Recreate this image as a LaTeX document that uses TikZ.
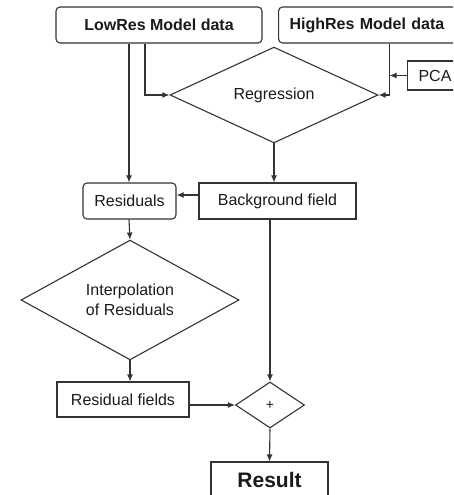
\documentclass[tikz,border=0pt]{standalone}
\usepackage{fontspec}
\setmainfont{Liberation Sans}
\usetikzlibrary{shapes.geometric,arrows.meta}
\definecolor{lncol}{HTML}{333333}
\definecolor{txcol}{HTML}{1A1A1A}
\tikzset{
  base/.style={draw=lncol, line width=1.1pt, text=txcol, inner sep=0pt,
    font=\fontsize{16}{19}\selectfont},
  rbox/.style={base, rectangle, rounded corners=4pt},
  sbox/.style={base, rectangle},
  dia/.style={base, diamond, align=center},
  arr/.style={draw=lncol, line width=1.1pt, -{Latex[length=7pt,width=6pt]}}
}
\begin{document}
\begin{tikzpicture}[x=1pt,y=-1pt]
\useasboundingbox (0,0) rectangle (453,495);
\clip (0,0) rectangle (453,495);
% nodes
\node[rbox, font=\fontsize{16}{19}\selectfont\bfseries, minimum width=206, minimum height=36] (low) at (159,25) {LowRes Model data};
\node[rbox, font=\fontsize{16}{19}\selectfont\bfseries, anchor=west, minimum height=36, text width=160, inner xsep=11pt, align=left] (high) at (278,25) {HighRes Model data};
\node[sbox, anchor=west, minimum height=29, text width=42, inner xsep=11pt, align=left] (pca) at (407,75.5) {PCA};
\node[dia, minimum width=208, minimum height=73] (reg) at (274,95) {Regression};
\node[rbox, minimum width=93, minimum height=36] (res) at (129.5,201) {Residuals};
\node[sbox, minimum width=157, minimum height=36] (bg) at (277.5,201) {Background field};
\node[dia, minimum width=218, minimum height=94, font=\fontsize{16}{20}\selectfont] (interp) at (130,300) {Interpolation\\of Residuals};
\node[sbox, minimum width=132, minimum height=35] (resf) at (123,399.5) {Residual fields};
\node[dia, minimum width=69, minimum height=46, font=\fontsize{14}{16}\selectfont] (plus) at (270,405) {+};
\node[sbox, minimum width=117, minimum height=36, font=\fontsize{21}{24}\selectfont\bfseries] (result) at (269.5,480) {Result};
% helper coordinates
\coordinate (lowA) at ([xshift=-30pt]low.south);
\coordinate (lowB) at ([xshift=-14pt]low.south);
\coordinate (highA) at ([xshift=20pt]high.south);
% connectors
\draw[arr] (lowA) -- (lowA |- res.north);
\draw[arr] (lowB) |- (reg.west);
\draw[arr] (highA) |- (reg.east);
\draw[arr] (pca.west) -- (pca.west -| highA);
\draw[arr] (reg.south) -- (reg.south |- bg.north);
\draw[arr] ([yshift=6pt]bg.west) -- ([yshift=6pt]bg.west -| res.east);
\draw[arr] (res.south -| lowA) -- (interp.north);
\draw[arr] (interp.south) -- (interp.south |- resf.north);
\draw[arr] (plus.north |- bg.south) -- (plus.north);
\draw[arr] (resf.east |- plus.west) -- (plus.west);
\draw[arr] (plus.south) -- (result.north);
\end{tikzpicture}
\end{document}
